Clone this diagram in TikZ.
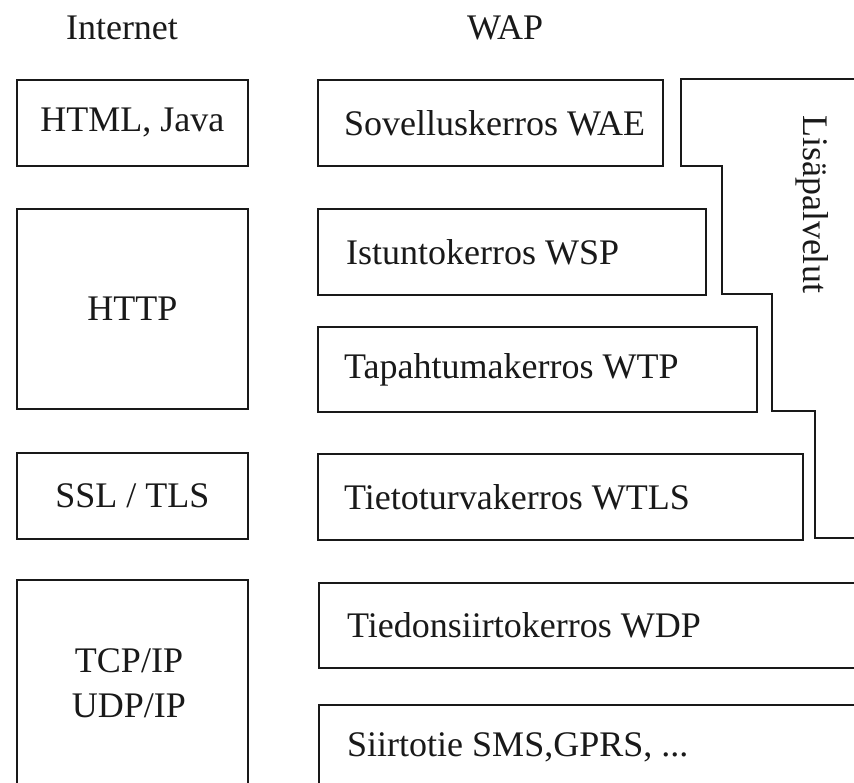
\documentclass[tikz,border=0pt]{standalone}
\usepackage{fontspec}
\setmainfont{Liberation Serif}
\begin{document}
\begin{tikzpicture}[x=1pt,y=-1pt,
  frame/.style={draw=black!90, line width=1.8pt, inner sep=0pt, anchor=north west},
  lbl/.style={font=\fontsize{36}{45}\selectfont, inner sep=0pt, text=black!90},
]
\useasboundingbox (0,0) rectangle (854,783);
\clip (0,0) rectangle (854,783);

% column headings
\node[lbl] (inet) at (122,28) {Internet};
\node[lbl] (wap)  at (505,28) {WAP};

% Internet protocol stack
\node[frame, minimum width=231, minimum height=86] (html) at (16,79) {};
\node[lbl] (html-t) at (html.center) {HTML, Java};
\node[frame, minimum width=231, minimum height=200] (http) at (16,208) {};
\node[lbl] (http-t) at (http.center) {HTTP};
\node[frame, minimum width=231, minimum height=86] (ssl) at (16,452) {};
\node[lbl] (ssl-t) at (ssl.center) {SSL / TLS};
\node[frame, minimum width=231, minimum height=240] (tcp) at (16,579) {};
\node[lbl, align=center] (tcp-t) at (129,683) {TCP/IP\\UDP/IP};

% WAP protocol stack
\node[frame, minimum width=345, minimum height=86] (wae) at (317,79) {};
\node[lbl, anchor=west] (wae-t) at ([xshift=27]wae.west) {Sovelluskerros WAE};
\node[frame, minimum width=388, minimum height=86] (wsp) at (317,208) {};
\node[lbl, anchor=west] (wsp-t) at ([xshift=29]wsp.west) {Istuntokerros WSP};
\node[frame, minimum width=439, minimum height=85] (wtp) at (317,326) {};
\node[lbl, anchor=west] (wtp-t) at ([xshift=27]wtp.west) {Tapahtumakerros WTP};
\node[frame, minimum width=485, minimum height=86] (wtls) at (317,453) {};
\node[lbl, anchor=west] (wtls-t) at ([xshift=27]wtls.west) {Tietoturvakerros WTLS};
\node[frame, minimum width=580, minimum height=85] (wdp) at (318,582) {};
\node[lbl, anchor=west] (wdp-t) at ([xshift=29]wdp.west) {Tiedonsiirtokerros WDP};
\node[frame, minimum width=580, minimum height=120] (bearer) at (318,704) {};
\node[lbl, anchor=west] (bearer-t) at (347,747) {Siirtotie SMS,GPRS, ...};

% stepped block for the additional services
\draw[draw=black!90, line width=1.8pt]
  (880,79) -- (681,79) -- (681,166) -- (722,166) -- (722,294)
  -- (772,294) -- (772,411) -- (815,411) -- (815,538) -- (880,538);
\node[lbl, rotate=-90] (extra) at (812,204) {Lisäpalvelut};
\end{tikzpicture}
\end{document}
